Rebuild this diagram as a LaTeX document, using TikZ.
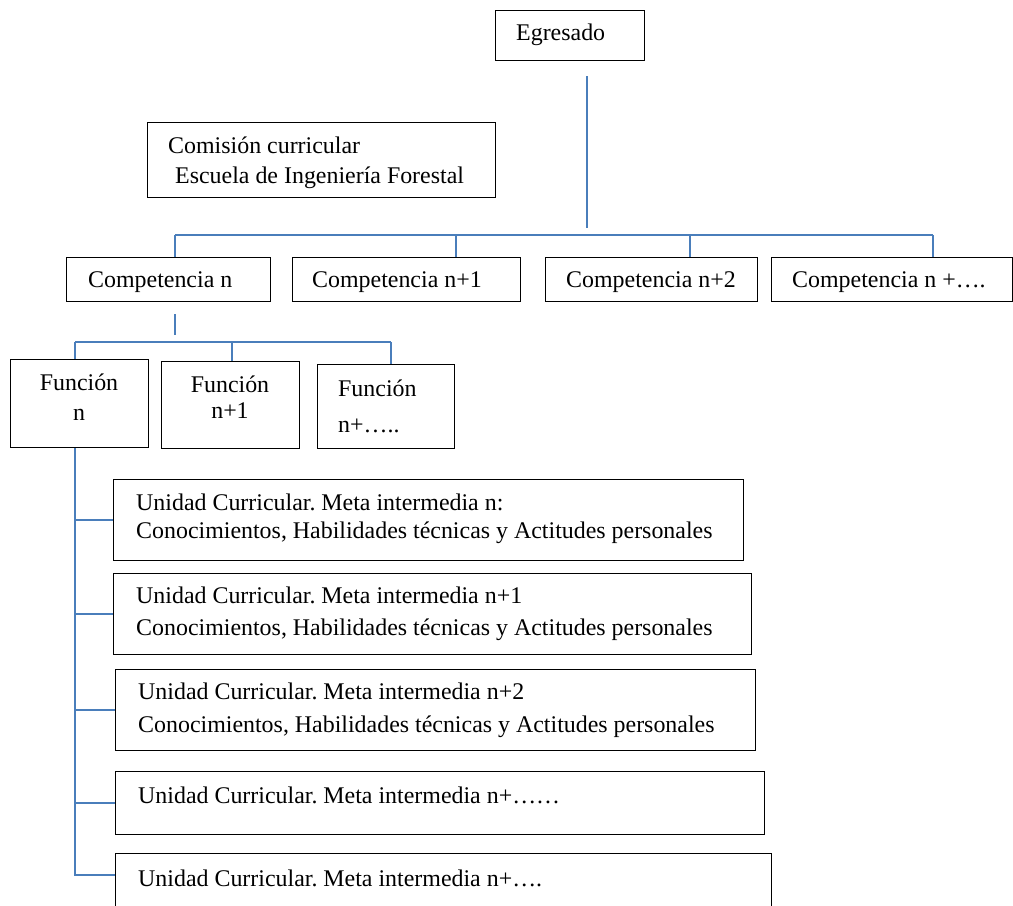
\documentclass[tikz,border=0pt]{standalone}
\usepackage{fontspec}
\setmainfont{Liberation Serif}
\usepackage{tikz}
\usetikzlibrary{positioning,calc}
\definecolor{linkBlue}{HTML}{4A7EBB}
\frenchspacing

\begin{document}
\begin{tikzpicture}[x=1bp, y=-1bp, font=\fontsize{24}{30}\selectfont,
  box/.style={draw, line width=1bp, anchor=north west, inner sep=0pt},
  txt/.style={anchor=base west, inner sep=0pt, align=left},
  link/.style={draw=linkBlue, line width=1.8bp}]
\useasboundingbox (0,0) rectangle (1013,906);
% --- top: graduate and commission ---
\node[box, minimum width=149bp, minimum height=50bp] (egr) at (495,10) {};
\node[txt] (egrT) at (516,40) {Egresado};
\node[box, minimum width=348bp, minimum height=75bp] (com) at (147,122) {};
\node[txt] (comT) at (168,183) {Comisión curricular\\\hspace*{7bp}Escuela de Ingeniería Forestal};
% --- competencies ---
\node[box, minimum width=204bp, minimum height=44bp] (c1) at (66,257) {};
\node[txt] (c1T) at (88,287) {Competencia n};
\node[box, minimum width=228bp, minimum height=44bp] (c2) at (292,257) {};
\node[txt] (c2T) at (312,287) {Competencia n+1};
\node[box, minimum width=212bp, minimum height=44bp] (c3) at (545,257) {};
\node[txt] (c3T) at (566,287) {Competencia n+2};
\node[box, minimum width=241bp, minimum height=44bp] (c4) at (771,257) {};
\node[txt] (c4T) at (792,287) {Competencia n +….};
% --- functions ---
\node[box, minimum width=138bp, minimum height=88bp] (f1) at (10,359) {};
\node[txt, anchor=base, align=center] (f1T) at (79,420) {Función\\n};
\node[box, minimum width=138bp, minimum height=87bp] (f2) at (161,361) {};
\node[txt, anchor=base, align=center] (f2T) at (230,418) {Función\\[-4bp]n+1};
\node[box, minimum width=137bp, minimum height=84bp] (f3) at (317,364) {};
\node[txt] (f3T) at (338,432) {Función\\[6bp]n+…..};
% --- curricular units ---
\node[box, minimum width=630bp, minimum height=81bp] (u1) at (113,479) {};
\node[txt] (u1T) at (136,538) {Unidad Curricular. Meta intermedia n:\\[-2bp]Conocimientos, Habilidades técnicas y Actitudes personales};
\node[box, minimum width=638bp, minimum height=81bp] (u2) at (113,573) {};
\node[txt] (u2T) at (136,635) {Unidad Curricular. Meta intermedia n+1\\[2bp]Conocimientos, Habilidades técnicas y Actitudes personales};
\node[box, minimum width=640bp, minimum height=81bp] (u3) at (115,669) {};
\node[txt] (u3T) at (138,732) {Unidad Curricular. Meta intermedia n+2\\[3bp]Conocimientos, Habilidades técnicas y Actitudes personales};
\node[box, minimum width=649bp, minimum height=63bp] (u4) at (115,771) {};
\node[txt] (u4T) at (138,803) {Unidad Curricular. Meta intermedia n+……};
\node[box, minimum width=656bp, minimum height=70bp] (u5) at (115,853) {};
\node[txt] (u5T) at (138,886) {Unidad Curricular. Meta intermedia n+….};
% --- connectors: graduate to competencies ---
\coordinate (t0) at (587,235);
\coordinate (t1) at ($(c1.north west)+(109,-22)$);
\coordinate (t2) at ($(c2.north west)+(164,-22)$);
\coordinate (t3) at ($(c3.north west)+(145,-22)$);
\coordinate (t4) at ($(c4.north west)+(162,-22)$);
\draw[link] ($(t0 |- egr.south)+(0,15)$) -- ($(t0)+(0,-7)$);
\draw[link] (t1) -- (t4);
\foreach \i in {1,...,4} \draw[link] (t\i) -- (t\i |- c\i.north);
% --- connectors: competence to functions ---
\coordinate (s0) at ($(c1.south west)+(109,12)$);
\coordinate (s1) at ($(f1.north west)+(65,-17)$);
\coordinate (s2) at ($(f2.north west)+(71,-19)$);
\coordinate (s3) at ($(f3.north west)+(74,-22)$);
\draw[link] (s0) -- ($(s0 |- s1)+(0,-7)$);
\draw[link] (s1) -- (s3);
\foreach \i in {1,2,3} \draw[link] (s\i) -- (s\i |- f\i.north);
% --- connectors: function to units ---
\coordinate (r5) at ($(u5.north west)+(0,22)$);
\draw[link] (s1 |- f1.south) -- (s1 |- r5) -- (r5);
\foreach \u in {u1,u2,u3,u4} \draw[link] (s1 |- \u.west) -- (\u.west);
\end{tikzpicture}
\end{document}
